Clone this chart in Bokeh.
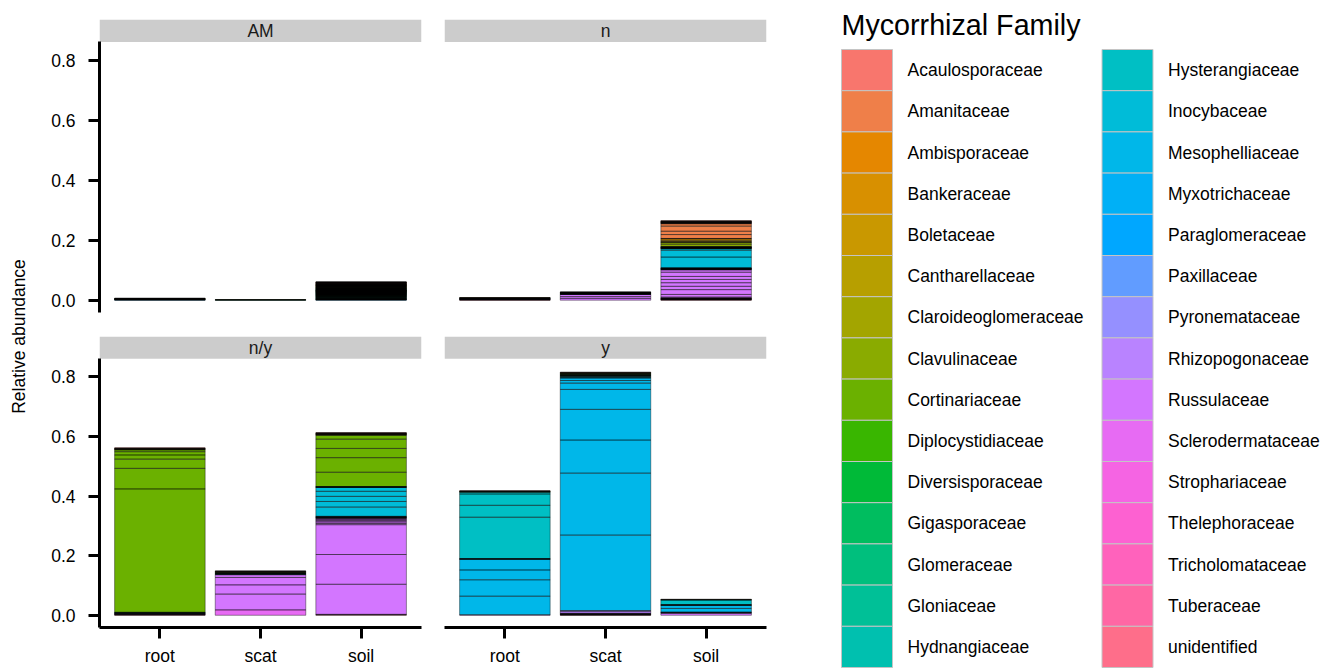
import math
import numpy as np
from bokeh.plotting import figure
from bokeh.models import FactorRange, Range1d, FixedTicker, NumeralTickFormatter, BoxAnnotation, ColumnDataSource
from bokeh.layouts import row, column
from bokeh.embed import file_html
from bokeh.resources import INLINE
from bokeh.core.properties import value

FONT = "Liberation Sans"

# ---------------- data ----------------
families = ["Acaulosporaceae", "Amanitaceae", "Ambisporaceae", "Bankeraceae", "Boletaceae",
            "Cantharellaceae", "Claroideoglomeraceae", "Clavulinaceae", "Cortinariaceae",
            "Diplocystidiaceae", "Diversisporaceae", "Gigasporaceae", "Glomeraceae", "Gloniaceae",
            "Hydnangiaceae", "Hysterangiaceae", "Inocybaceae", "Mesophelliaceae", "Myxotrichaceae",
            "Paraglomeraceae", "Paxillaceae", "Pyronemataceae", "Rhizopogonaceae", "Russulaceae",
            "Sclerodermataceae", "Strophariaceae", "Thelephoraceae", "Tricholomataceae",
            "Tuberaceae", "unidentified"]
samples = ["root", "scat", "soil"]
facets = ["AM", "n", "n/y", "y"]
y_ticks = [0.0, 0.2, 0.4, 0.6, 0.8]

# each bar: (family, [OTU relative abundances]) listed bottom -> top
AM_root = [("Paraglomeraceae", [0.0008]), ("Glomeraceae", [0.0007, 0.0006, 0.0006, 0.0005, 0.0005]),
           ("Diversisporaceae", [0.0007]), ("Claroideoglomeraceae", [0.0006, 0.0005]),
           ("Acaulosporaceae", [0.0006, 0.0005])]
AM_scat = [("Glomeraceae", [0.0006, 0.0005, 0.0004]), ("Claroideoglomeraceae", [0.0005])]
AM_soil = [("Paraglomeraceae", [0.0009, 0.0008, 0.0008, 0.0007, 0.0007, 0.0006, 0.0006]),
           ("Glomeraceae", [0.0012, 0.0011, 0.0011, 0.0010, 0.0010, 0.0010, 0.0009, 0.0009, 0.0009,
                            0.0009, 0.0008, 0.0008, 0.0008, 0.0008, 0.0008, 0.0008, 0.0007, 0.0007,
                            0.0007, 0.0007, 0.0007, 0.0007, 0.0007, 0.0007, 0.0006, 0.0006, 0.0006,
                            0.0006, 0.0006, 0.0006, 0.0006, 0.0006, 0.0005, 0.0005, 0.0005, 0.0005,
                            0.0005, 0.0005, 0.0005, 0.0005]),
           ("Gigasporaceae", [0.0009, 0.0008, 0.0007, 0.0006]),
           ("Diversisporaceae", [0.0010, 0.0009, 0.0008, 0.0007, 0.0006, 0.0005]),
           ("Claroideoglomeraceae", [0.0012, 0.0010, 0.0009, 0.0009, 0.0008, 0.0008, 0.0007, 0.0007,
                                     0.0006, 0.0006]),
           ("Ambisporaceae", [0.0009, 0.0008, 0.0007, 0.0006]),
           ("Acaulosporaceae", [0.0011, 0.0010, 0.0009, 0.0009, 0.0008, 0.0008, 0.0007, 0.0007,
                                0.0006, 0.0005])]

n_root = [("unidentified", [0.0008]), ("Tuberaceae", [0.0007]), ("Thelephoraceae", [0.0009]),
          ("Russulaceae", [0.0010, 0.0008]), ("Pyronemataceae", [0.0007]), ("Inocybaceae", [0.0009]),
          ("Glomeraceae", [0.0008, 0.0007]), ("Cortinariaceae", [0.0009]), ("Acaulosporaceae", [0.0008])]
n_scat = [("Russulaceae", [0.006, 0.006, 0.007]), ("Pyronemataceae", [0.0008, 0.0007]),
          ("Paraglomeraceae", [0.0006]), ("Inocybaceae", [0.0009, 0.0008]),
          ("Glomeraceae", [0.0007, 0.0006, 0.0006]), ("Cortinariaceae", [0.0008]),
          ("Clavulinaceae", [0.0007]), ("Acaulosporaceae", [0.0008, 0.0006])]
n_soil = [("unidentified", [0.0010]), ("Tuberaceae", [0.0009]), ("Tricholomataceae", [0.0010]),
          ("Thelephoraceae", [0.0010, 0.0008]), ("Strophariaceae", [0.0007]),
          ("Sclerodermataceae", [0.0010, 0.0008]),
          ("Russulaceae", [0.003, 0.009, 0.016, 0.011, 0.012, 0.011, 0.010, 0.014, 0.008]),
          ("Rhizopogonaceae", [0.0008]), ("Pyronemataceae", [0.0009, 0.0008]), ("Paxillaceae", [0.0007]),
          ("Paraglomeraceae", [0.0008]), ("Myxotrichaceae", [0.0007]), ("Mesophelliaceae", [0.0009]),
          ("Inocybaceae", [0.0008, 0.036, 0.023, 0.005]),
          ("Hysterangiaceae", [0.0008]), ("Hydnangiaceae", [0.0009]), ("Gloniaceae", [0.0007]),
          ("Glomeraceae", [0.0008, 0.0007]), ("Gigasporaceae", [0.0006]), ("Diversisporaceae", [0.0008]),
          ("Cortinariaceae", [0.0009, 0.0008]),
          ("Clavulinaceae", [0.008, 0.006]),
          ("Claroideoglomeraceae", [0.0008]), ("Cantharellaceae", [0.0025]), ("Boletaceae", [0.004]),
          ("Bankeraceae", [0.005]), ("Ambisporaceae", [0.0009]),
          ("Amanitaceae", [0.013, 0.011, 0.017, 0.008]),
          ("Acaulosporaceae", [0.0012, 0.0010, 0.0009, 0.0011, 0.0008, 0.0010, 0.0009, 0.0011, 0.0010, 0.0012])]

ny_root = [("unidentified", [0.0012]), ("Tuberaceae", [0.0010]), ("Thelephoraceae", [0.0011]),
           ("Russulaceae", [0.0013, 0.0010]), ("Inocybaceae", [0.0012]), ("Hysterangiaceae", [0.0011]),
           ("Glomeraceae", [0.0010]), ("Diversisporaceae", [0.0011]),
           ("Cortinariaceae", [0.414, 0.069, 0.031, 0.014, 0.011, 0.006]),
           ("Clavulinaceae", [0.0014]), ("Claroideoglomeraceae", [0.0011]), ("Cantharellaceae", [0.0012]),
           ("Amanitaceae", [0.0010]), ("Acaulosporaceae", [0.0013, 0.0010])]
ny_scat = [("Sclerodermataceae", [0.018]), ("Russulaceae", [0.053, 0.031, 0.025, 0.009]),
           ("Pyronemataceae", [0.0012]), ("Inocybaceae", [0.0015, 0.0011]),
           ("Glomeraceae", [0.0010, 0.0009]), ("Cortinariaceae", [0.0018, 0.0014, 0.0012, 0.0011]),
           ("Acaulosporaceae", [0.0010, 0.0008])]
ny_soil = [("unidentified", [0.0015]), ("Thelephoraceae", [0.0015]),
           ("Russulaceae", [0.101, 0.100, 0.100, 0.004, 0.005, 0.004, 0.003, 0.003, 0.002, 0.002]),
           ("Pyronemataceae", [0.0010]), ("Paxillaceae", [0.0009]), ("Paraglomeraceae", [0.0008]),
           ("Myxotrichaceae", [0.0010]), ("Mesophelliaceae", [0.0013]),
           ("Inocybaceae", [0.031, 0.019, 0.017, 0.017, 0.013]),
           ("Hysterangiaceae", [0.0008]), ("Hydnangiaceae", [0.0007]), ("Glomeraceae", [0.0008]),
           ("Diversisporaceae", [0.0007]),
           ("Cortinariaceae", [0.048, 0.049, 0.031, 0.031, 0.013]),
           ("Clavulinaceae", [0.0015, 0.0012]), ("Cantharellaceae", [0.0011]), ("Boletaceae", [0.0010]),
           ("Amanitaceae", [0.0012]), ("Acaulosporaceae", [0.0010, 0.0010, 0.0010])]

y_root = [("Russulaceae", [0.0015]), ("Mesophelliaceae", [0.0625, 0.055, 0.033, 0.036]),
          ("Inocybaceae", [0.0007, 0.0006]),
          ("Hysterangiaceae", [0.0007, 0.139, 0.040, 0.038, 0.006]),
          ("Glomeraceae", [0.0010]), ("Cortinariaceae", [0.0012]), ("Clavulinaceae", [0.0010]),
          ("Amanitaceae", [0.0008]), ("Acaulosporaceae", [0.0010])]
y_scat = [("unidentified", [0.0008]), ("Tuberaceae", [0.0010]), ("Thelephoraceae", [0.0009]),
          ("Sclerodermataceae", [0.0011]), ("Russulaceae", [0.0012, 0.0010]),
          ("Rhizopogonaceae", [0.006, 0.004]),
          ("Mesophelliaceae", [0.253, 0.208, 0.111, 0.103, 0.067, 0.021, 0.009, 0.008]),
          ("Inocybaceae", [0.0025, 0.0018]), ("Hysterangiaceae", [0.0020, 0.0015]),
          ("Glomeraceae", [0.0012, 0.0010]), ("Gigasporaceae", [0.0008]), ("Diversisporaceae", [0.0010]),
          ("Cortinariaceae", [0.0022, 0.0015]), ("Clavulinaceae", [0.0012]),
          ("Claroideoglomeraceae", [0.0010]), ("Acaulosporaceae", [0.0013, 0.0010])]
y_soil = [("Russulaceae", [0.006]), ("Rhizopogonaceae", [0.003]), ("Pyronemataceae", [0.0007]),
          ("Paxillaceae", [0.0006]), ("Mesophelliaceae", [0.0127, 0.010]),
          ("Inocybaceae", [0.0010, 0.0009, 0.0008]), ("Hysterangiaceae", [0.0153]),
          ("Glomeraceae", [0.0010]), ("Cortinariaceae", [0.0010]), ("Acaulosporaceae", [0.0010])]

bars = {
    "AM": {"root": AM_root, "scat": AM_scat, "soil": AM_soil},
    "n": {"root": n_root, "scat": n_scat, "soil": n_soil},
    "n/y": {"root": ny_root, "scat": ny_scat, "soil": ny_soil},
    "y": {"root": y_root, "scat": y_scat, "soil": y_soil},
}


# ---------------- colours: ggplot2 default hue palette ----------------
def hcl_hex(h, c=100.0, l=65.0):
    WX, WY, WZ = 95.047, 100.000, 108.883
    hr = math.radians(h)
    U, V = c * math.cos(hr), c * math.sin(hr)
    Y = WY * (((l + 16.0) / 116.0) ** 3 if l > 7.999592 else l / 903.3)
    t = WX + WY + WZ
    x, y = WX / t, WY / t
    uN = 2.0 * x / (6.0 * y - x + 1.5)
    vN = 4.5 * y / (6.0 * y - x + 1.5)
    u = U / (13.0 * l) + uN
    v = V / (13.0 * l) + vN
    X = 9.0 * Y * u / (4.0 * v)
    Z = -X / 3.0 - 5.0 * Y + 3.0 * Y / v

    def g(q):
        return 1.055 * q ** (1 / 2.4) - 0.055 if q > 0.00304 else 12.92 * q

    R = g((3.240479 * X - 1.537150 * Y - 0.498535 * Z) / WY)
    G = g((-0.969256 * X + 1.875992 * Y + 0.041556 * Z) / WY)
    B = g((0.055648 * X - 0.204043 * Y + 1.057311 * Z) / WY)
    return "#%02X%02X%02X" % tuple(int(round(255 * min(1, max(0, q)))) for q in (R, G, B))


n_fam = len(families)
palette = {f: hcl_hex(15 + 360.0 * i / n_fam) for i, f in enumerate(families)}

# ---------------- geometry ----------------
PX = 300.0                      # pixels per unit
Y0, YTOP = -0.041, 0.861        # data region
FRAME_H = 293
Y1 = Y0 + FRAME_H / PX          # frame also holds the facet strip
TXT = "17.5px"


def style_axis(ax):
    ax.axis_line_width = 3
    ax.axis_line_color = "black"
    ax.major_tick_line_width = 3
    ax.major_tick_line_color = "black"
    ax.major_tick_out = 11
    ax.major_tick_in = 0
    ax.minor_tick_line_color = None
    ax.major_label_text_font = FONT
    ax.major_label_text_font_size = TXT
    ax.major_label_text_color = "black"


def panel(facet, show_y, show_x, width, height, bl, br, bt, bb):
    p = figure(width=width, height=height,
               x_range=FactorRange(factors=samples, range_padding=0.1, range_padding_units="absolute"),
               y_range=Range1d(Y0, Y1), output_backend="svg", toolbar_location=None,
               min_border_left=bl, min_border_right=br, min_border_top=bt, min_border_bottom=bb)
    p.xgrid.visible = False
    p.ygrid.visible = False
    p.outline_line_color = None
    p.background_fill_color = "white"
    p.border_fill_color = "white"

    xs, bot, top, col, fam = [], [], [], [], []
    for s in samples:
        groups = bars[facet][s]
        fams = [f for f, vals in groups for _ in vals]
        vals = np.array([v for _, vs in groups for v in vs])
        cum = np.cumsum(vals)
        xs += [s] * len(vals)
        bot += list(cum - vals)
        top += list(cum)
        col += [palette[f] for f in fams]
        fam += fams
    src = ColumnDataSource(dict(x=xs, bottom=bot, top=top, color=col, family=fam))
    # fills first, outlines on top (dense stacks of tiny OTUs read as black)
    p.vbar(x="x", bottom="bottom", top="top", width=0.9, source=src,
           fill_color="color", line_color=None)
    p.vbar(x="x", bottom="bottom", top="top", width=0.9, source=src,
           fill_color=None, line_color="black", line_width=0.4)

    # facet strip
    p.add_layout(BoxAnnotation(bottom=YTOP, fill_color="#cccccc", fill_alpha=1.0,
                               line_color=None, level="underlay"))
    p.text(x=["scat"], y=[(YTOP + Y1) / 2], text=[facet], text_align="center",
           text_baseline="middle", text_font=value(FONT), text_font_size=TXT, text_color="#1a1a1a")

    yax = p.yaxis[0]
    yax.ticker = FixedTicker(ticks=y_ticks)
    yax.formatter = NumeralTickFormatter(format="0.0")
    yax.bounds = (Y0, YTOP)
    style_axis(yax)
    yax.major_label_standoff = 13
    yax.visible = show_y

    xax = p.xaxis[0]
    style_axis(xax)
    xax.major_label_standoff = 7
    xax.visible = show_x
    return p


TOP_H = 19 + FRAME_H + 11
BOT_H = 13 + FRAME_H + 39
tl = panel("AM", True, False, 400, TOP_H, 67, 11, 19, 11)
tr = panel("n", False, False, 338, TOP_H, 12, 4, 19, 11)
bl = panel("n/y", True, True, 400, BOT_H, 67, 11, 13, 39)
br = panel("y", False, True, 338, BOT_H, 12, 4, 13, 39)

TOTAL_H = TOP_H + BOT_H


def blank(width, height):
    f = figure(width=width, height=height, x_range=Range1d(0, width), y_range=Range1d(height, 0),
               output_backend="svg", toolbar_location=None,
               min_border_left=0, min_border_right=0, min_border_top=0, min_border_bottom=0)
    f.axis.visible = False
    f.xgrid.visible = False
    f.ygrid.visible = False
    f.outline_line_color = None
    return f


# y-axis title
lab = blank(32, TOTAL_H)
lab.text(x=[18.5], y=[336], text=["Relative abundance"], angle=math.pi / 2, text_align="center",
         text_baseline="middle", text_font=value(FONT), text_font_size=TXT, text_color="black")

# legend
LEG_W = 562
leg = blank(LEG_W, TOTAL_H)
ROW_H = 41.2
idx = np.arange(n_fam)
ci = idx // 15
ri = idx % 15
kx = np.where(ci == 0, 96.5, 357.0)
ky = 49 + ROW_H * (ri + 0.5)
leg.rect(x=kx, y=ky, width=51, height=ROW_H, fill_color=[palette[f] for f in families],
         line_color="#c4c4c4", line_width=1)
leg.text(x=kx + 40.5, y=ky, text=families, text_align="left", text_baseline="middle",
         text_font=value(FONT), text_font_size=TXT, text_color="black")
leg.text(x=[71], y=[24], text=["Mycorrhizal Family"], text_align="left", text_baseline="middle",
         text_font=value(FONT), text_font_size="28.7px", text_color="black")

layout = row(lab, column(row(tl, tr), row(bl, br)), leg)
open("out.html", "w").write(file_html(layout, INLINE))
